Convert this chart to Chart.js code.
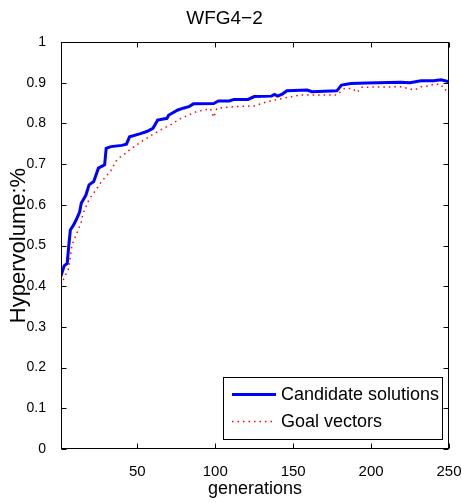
<!DOCTYPE html>
<html>
<head>
<meta charset="utf-8">
<script src="https://cdn.jsdelivr.net/npm/chart.js@4.4.1/dist/chart.umd.min.js"></script>
<style>
  html, body { margin: 0; padding: 0; background: #ffffff; }
  #wrap { width: 462px; height: 503px; }
</style>
</head>
<body>
<div id="wrap"><canvas id="c" width="462" height="503"></canvas></div>
<script>
// ---- data ----
const chartTitle = 'WFG4\u22122';
const xAxisTitle = 'generations';
const yAxisTitle = 'Hypervolume:%';
const seriesNames = ['Candidate solutions', 'Goal vectors'];

const xTickValues = [50, 100, 150, 200, 250];
const xTickLabels = ['50', '100', '150', '200', '250'];
const yTickValues = [0, 0.1, 0.2, 0.3, 0.4, 0.5, 0.6, 0.7, 0.8, 0.9, 1];
const yTickLabels = ['0', '0.1', '0.2', '0.3', '0.4', '0.5', '0.6', '0.7', '0.8', '0.9', '1'];

const candidateGens = [1, 3, 5, 6, 7, 9, 11, 13, 14, 17, 19, 22, 25, 29, 30, 33, 40, 43, 45, 52, 56, 60, 63, 69, 70, 76, 80, 83, 86, 99, 102, 109, 112, 121, 125, 136, 138, 140, 143, 146, 159, 162, 170, 178, 181, 187, 197, 219, 225, 232, 240, 245, 250];
const candidateValues = [0.425, 0.45, 0.456, 0.50, 0.538, 0.55, 0.565, 0.583, 0.604, 0.624, 0.649, 0.657, 0.69, 0.698, 0.739, 0.743, 0.746, 0.749, 0.767, 0.775, 0.78, 0.788, 0.808, 0.8125, 0.82, 0.833, 0.838, 0.841, 0.848, 0.849, 0.855, 0.855, 0.859, 0.859, 0.866, 0.867, 0.871, 0.867, 0.872, 0.880, 0.882, 0.878, 0.879, 0.880, 0.894, 0.898, 0.899, 0.901, 0.900, 0.905, 0.905, 0.907, 0.902];

const goalGens = [1, 3, 6, 8, 12, 14, 15, 17, 19, 24, 27, 33, 37, 42, 45, 54, 63, 71, 78, 88, 97, 99, 101, 112, 125, 133, 144, 155, 178, 183, 188, 191, 194, 198, 219, 228, 232, 237, 241, 245, 247, 250];
const goalValues = [0.403, 0.42, 0.444, 0.501, 0.538, 0.558, 0.577, 0.595, 0.613, 0.64, 0.657, 0.684, 0.712, 0.725, 0.735, 0.759, 0.78, 0.796, 0.8125, 0.829, 0.836, 0.815, 0.837, 0.841, 0.843, 0.853, 0.862, 0.87, 0.87, 0.886, 0.886, 0.876, 0.889, 0.889, 0.89, 0.882, 0.89, 0.892, 0.897, 0.895, 0.882, 0.883];

// ---- styling ----
const FONT = "'Liberation Sans', Arial, Helvetica, sans-serif";

function toPoints(xs, ys) { return xs.map((x, i) => ({ x: x, y: ys[i] })); }

const framePlugin = {
  id: 'frame',
  beforeDraw(chart) {
    const ctx = chart.ctx;
    ctx.save();
    ctx.fillStyle = '#ffffff';
    ctx.fillRect(0, 0, chart.width, chart.height);
    ctx.restore();
  },
  afterDatasetsDraw(chart) {
    const { ctx, chartArea: a, scales } = chart;
    const tl = 5;
    ctx.save();
    ctx.strokeStyle = '#000000';
    ctx.lineWidth = 1;
    const L = Math.round(a.left) + 0.5, R = Math.round(a.right) - 0.5;
    const T = Math.round(a.top) + 0.5, B = Math.round(a.bottom) - 0.5;
    ctx.strokeRect(L, T, R - L, B - T);
    ctx.beginPath();
    xTickValues.forEach(v => {
      const px = Math.round(scales.x.getPixelForValue(v)) + 0.5;
      ctx.moveTo(px, B); ctx.lineTo(px, B - tl);
      ctx.moveTo(px, T); ctx.lineTo(px, T + tl);
    });
    yTickValues.forEach(v => {
      const py = Math.round(scales.y.getPixelForValue(v)) + 0.5;
      ctx.moveTo(L, py); ctx.lineTo(L + tl, py);
      ctx.moveTo(R, py); ctx.lineTo(R - tl, py);
    });
    ctx.stroke();

    // legend box (lower right, inside axes)
    const bx = 223.5, by = 377.5, bw = 219, bh = 62;
    ctx.fillStyle = '#ffffff';
    ctx.fillRect(bx, by, bw, bh);
    ctx.strokeRect(bx, by, bw, bh);
    const rows = [394.5, 421.5];
    chart.data.datasets.forEach((ds, i) => {
      ctx.save();
      ctx.strokeStyle = ds.borderColor;
      ctx.lineWidth = ds.borderWidth;
      ctx.setLineDash(ds.borderDash || []);
      ctx.beginPath();
      ctx.moveTo(232, rows[i]);
      ctx.lineTo(276, rows[i]);
      ctx.stroke();
      ctx.restore();
      ctx.fillStyle = '#000000';
      ctx.font = '18px ' + FONT;
      ctx.textAlign = 'left';
      ctx.textBaseline = 'middle';
      ctx.fillText(ds.label, 281, rows[i] + 0.5);
    });
    ctx.restore();
  }
};

function draw() {
  new Chart(document.getElementById('c'), {
    type: 'line',
    data: {
      datasets: [
        {
          label: seriesNames[0],
          data: toPoints(candidateGens, candidateValues),
          borderColor: '#0000ff',
          backgroundColor: '#0000ff',
          borderWidth: 3,
          pointRadius: 0,
          tension: 0,
          fill: false
        },
        {
          label: seriesNames[1],
          data: toPoints(goalGens, goalValues),
          borderColor: '#ff0000',
          backgroundColor: '#ff0000',
          borderWidth: 1.5,
          borderDash: [1.5, 4],
          pointRadius: 0,
          tension: 0,
          fill: false
        }
      ]
    },
    options: {
      responsive: false,
      animation: false,
      layout: { padding: { left: 0, right: 13, top: 0, bottom: 0 } },
      plugins: {
        legend: { display: false },
        tooltip: { enabled: false },
        title: {
          display: true,
          text: chartTitle,
          color: '#000000',
          font: { family: FONT, size: 19, weight: 'normal' },
          padding: { top: 7, bottom: 12.2 }
        }
      },
      scales: {
        x: {
          type: 'linear',
          min: 1,
          max: 250,
          grid: { display: false },
          border: { display: false },
          afterBuildTicks(scale) { scale.ticks = xTickValues.map(v => ({ value: v })); },
          afterFit(scale) { scale.height = 54; scale.paddingLeft = 0; scale.paddingRight = 0; },
          ticks: {
            color: '#000000',
            font: { family: FONT, size: 15 },
            padding: 6,
            maxRotation: 0,
            autoSkip: false,
            callback: (v) => xTickLabels[xTickValues.indexOf(v)]
          },
          title: {
            display: true,
            text: xAxisTitle,
            color: '#000000',
            font: { family: FONT, size: 18 },
            padding: { top: 0, bottom: 3 }
          }
        },
        y: {
          type: 'linear',
          min: 0,
          max: 1,
          grid: { display: false },
          border: { display: false },
          afterBuildTicks(scale) { scale.ticks = yTickValues.map(v => ({ value: v })); },
          afterFit(scale) { scale.width = 61; scale.paddingTop = 0; scale.paddingBottom = 0; },
          ticks: {
            color: '#000000',
            font: { family: FONT, size: 14 },
            padding: 7,
            autoSkip: false,
            callback: (v) => yTickLabels[yTickValues.findIndex(t => Math.abs(t - v) < 1e-9)]
          },
          title: {
            display: true,
            text: yAxisTitle,
            color: '#000000',
            font: { family: FONT, size: 22 },
            padding: { top: 6, bottom: 0 }
          }
        }
      }
    },
    plugins: [framePlugin]
  });
}

if (document.fonts && document.fonts.load) {
  document.fonts.load("16px 'Liberation Sans'").then(draw, draw);
} else {
  draw();
}
</script>
</body>
</html>
